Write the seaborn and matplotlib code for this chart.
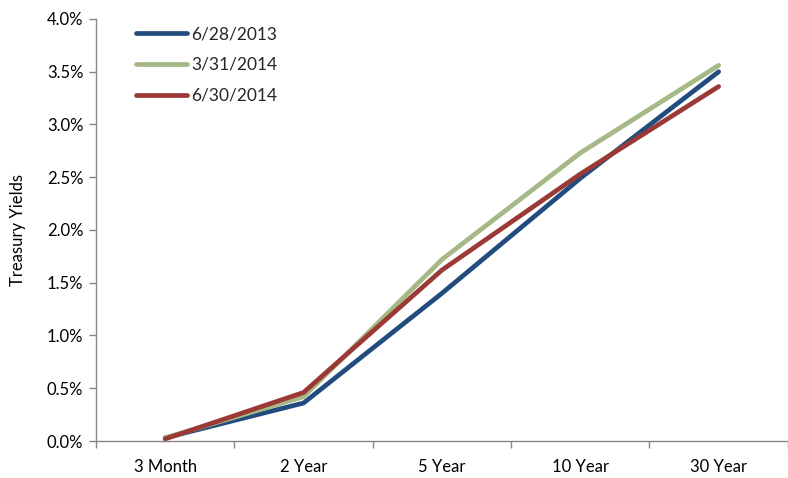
import matplotlib
matplotlib.use("Agg")
import matplotlib.pyplot as plt
from matplotlib.ticker import FuncFormatter, FixedLocator
import seaborn as sns
import pandas as pd

maturities = ["3 Month", "2 Year", "5 Year", "10 Year", "30 Year"]
dates = ["6/28/2013", "3/31/2014", "6/30/2014"]
yields_2013_06 = [0.03, 0.36, 1.40, 2.49, 3.50]
yields_2014_03 = [0.03, 0.42, 1.72, 2.73, 3.56]
yields_2014_06 = [0.02, 0.46, 1.62, 2.53, 3.36]
colors = ["#234C7E", "#A5B886", "#9A3936"]

rows = []
for d, vals in zip(dates, [yields_2013_06, yields_2014_03, yields_2014_06]):
    for m, v in zip(maturities, vals):
        rows.append({"Maturity": m, "Yield": v, "Date": d})
df = pd.DataFrame(rows)

sns.set_theme(style="white")
plt.rcParams["font.family"] = ["Lato", "DejaVu Sans"]

fig = plt.figure(figsize=(7.88, 4.78), dpi=100)
ax = fig.add_axes([0.1218, 0.0774, 0.878, 0.8829])

sns.lineplot(data=df, x="Maturity", y="Yield", hue="Date", hue_order=dates,
             palette=colors, linewidth=3.4, sort=False, ax=ax,
             solid_capstyle="round")

ax.set_xlim(-0.5, 4.5)
ax.set_ylim(0, 4.0)
ax.yaxis.set_major_locator(FixedLocator([i * 0.5 for i in range(9)]))
ax.yaxis.set_major_formatter(FuncFormatter(lambda v, p: f"{v:.1f}%"))

ax.set_xticks(range(len(maturities)))
ax.set_xticklabels(maturities)
ax.xaxis.set_minor_locator(FixedLocator([i - 0.5 for i in range(len(maturities) + 1)]))
ax.tick_params(axis="x", which="major", length=0, pad=13, labelsize=12, colors="#000000")
ax.tick_params(axis="x", which="minor", length=5, width=1, color="#868686", direction="out", bottom=True)
ax.tick_params(axis="y", which="major", length=5, width=1, color="#868686", direction="out",
               left=True, labelsize=12, pad=4, labelcolor="#000000")

for s in ["top", "right"]:
    ax.spines[s].set_visible(False)
for s in ["left", "bottom"]:
    ax.spines[s].set_color("#868686")
    ax.spines[s].set_linewidth(1)

ax.set_xlabel("")
ax.set_ylabel("Treasury Yields", fontsize=12, labelpad=15, color="#000000")

leg = ax.legend(title=None, loc="upper left", bbox_to_anchor=(0.035, 1.02), frameon=False,
                fontsize=12.5, handlelength=2.95, handletextpad=0.25, labelspacing=0.85)
for line in leg.get_lines():
    line.set_linewidth(3.4)
    line.set_solid_capstyle("round")

fig.savefig("out.png", dpi=100)
